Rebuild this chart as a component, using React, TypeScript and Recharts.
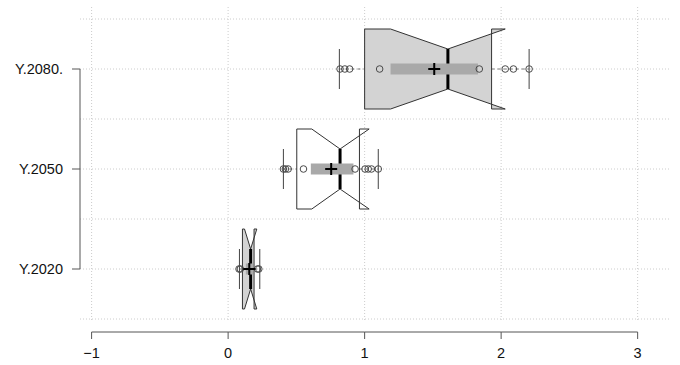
import React from 'react';
import { ComposedChart, Bar, Scatter, XAxis, YAxis, CartesianGrid } from 'recharts';

// categories, top to bottom
const categories = ['Y.2080.', 'Y.2050', 'Y.2020'];
const levels = [3, 2, 1];

// box statistics
const q1 = [1.0, 0.503, 0.105];
const q3 = [1.93, 0.962, 0.19];
const medians = [1.61, 0.82, 0.165];
const notchLo = [1.19, 0.613, 0.12];
const notchHi = [2.03, 1.033, 0.21];
const whiskerLo = [0.815, 0.405, 0.083];
const whiskerHi = [2.205, 1.1, 0.232];
const bandLo = [1.19, 0.606, 0.13];
const bandHi = [1.83, 0.918, 0.18];
const means = [1.51, 0.755, 0.155];

// single observations drawn as circles
const points2080 = [0.82, 0.855, 0.89, 1.11, 1.84, 2.03, 2.09, 2.205];
const points2050 = [0.405, 0.42, 0.44, 0.552, 0.93, 1.003, 1.026, 1.05, 1.1];
const points2020 = [0.08, 0.09, 0.215, 0.225];

const xTicks = [-1, 0, 1, 2, 3];
const gridTicks = [0.5, 1, 1.5, 2, 2.5, 3, 3.5];

const BOX_FILLS = ['#d3d3d3', '#ffffff', '#d3d3d3'];

const W = 680;
const H = 365;
const MARGIN = { top: 7, right: 10, left: 0, bottom: 0 };
const Y_W = 80;
const X_H = 45;
const XMIN = -1.085;
const XMAX = 3.237;
const YMIN = 0.49;
const YMAX = 3.62;
const PLOT_W = W - MARGIN.left - MARGIN.right - Y_W;
const PLOT_H = H - MARGIN.top - MARGIN.bottom - X_H;
const STEP_X = PLOT_W / (XMAX - XMIN);
const STEP_Y = PLOT_H / (YMAX - YMIN);

const FONT = '"Liberation Sans", Arial, Helvetica, sans-serif';
const AXIS = '#555';

const boxes = categories.map((name, i) => ({
  name,
  q1: q1[i],
  q3: q3[i],
  med: medians[i],
  nLo: notchLo[i],
  nHi: notchHi[i],
  wLo: whiskerLo[i],
  wHi: whiskerHi[i],
  bLo: bandLo[i],
  bHi: bandHi[i],
  fill: BOX_FILLS[i],
}));

const pointData = [
  ...points2080.map((v) => ({ v, y: levels[0] })),
  ...points2050.map((v) => ({ v, y: levels[1] })),
  ...points2020.map((v) => ({ v, y: levels[2] })),
];
const meanData = means.map((v, i) => ({ v, y: levels[i] }));

const NotchedBox = (props: any) => {
  const { x, y, width, height, payload } = props;
  const d = payload;
  const k = width / (d.q3 - d.q1);
  const px = (v: number) => x + (v - d.q1) * k;
  const cy = y + height / 2;
  const h = height / 2;
  const top = cy - h;
  const bot = cy + h;
  const inTop = cy - h / 2;
  const inBot = cy + h / 2;
  const pts = [
    [px(d.q1), top], [px(d.nLo), top], [px(d.med), inTop], [px(d.nHi), top], [px(d.q3), top],
    [px(d.q3), bot], [px(d.nHi), bot], [px(d.med), inBot], [px(d.nLo), bot], [px(d.q1), bot],
  ].map((p) => p.join(',')).join(' ');
  return (
    <g>
      <line x1={px(d.wLo)} x2={px(d.q1)} y1={cy} y2={cy} stroke="#777" strokeDasharray="3 3" />
      <line x1={px(d.q3)} x2={px(d.wHi)} y1={cy} y2={cy} stroke="#777" strokeDasharray="3 3" />
      <line x1={px(d.wLo)} x2={px(d.wLo)} y1={inTop} y2={inBot} stroke="#444" />
      <line x1={px(d.wHi)} x2={px(d.wHi)} y1={inTop} y2={inBot} stroke="#444" />
      <polygon points={pts} fill={d.fill} stroke="#333" strokeWidth={1} />
      <line x1={px(d.med)} x2={px(d.med)} y1={inTop} y2={inBot} stroke="#000" strokeWidth={3} />
      <rect x={px(d.bLo)} y={cy - 5.5} width={px(d.bHi) - px(d.bLo)} height={11} fill="#a9a9a9" />
    </g>
  );
};

const Ring = (props: any) => (
  <circle cx={props.cx} cy={props.cy} r={3.3} fill="none" stroke="#4a4a4a" strokeWidth={1} />
);

const Cross = (props: any) => (
  <path
    d={`M${props.cx - 6},${props.cy}H${props.cx + 6}M${props.cx},${props.cy - 6}V${props.cy + 6}`}
    stroke="#000"
    strokeWidth={2}
    fill="none"
  />
);

const XTick = (props: any) => {
  const { x, y, payload, index } = props;
  const label = payload.value < 0 ? `\u2212${Math.abs(payload.value)}` : `${payload.value}`;
  return (
    <g>
      {index < xTicks.length - 1 && (
        <line x1={x} x2={x + STEP_X} y1={y + 12} y2={y + 12} stroke={AXIS} />
      )}
      <line x1={x} x2={x} y1={y + 12} y2={y + 19} stroke={AXIS} />
      <text x={x} y={y + 38} textAnchor="middle" fontSize={14.5} fontFamily={FONT} fill="#111">
        {label}
      </text>
    </g>
  );
};

const YTick = (props: any) => {
  const { x, y, payload, index } = props;
  return (
    <g>
      {index < categories.length - 1 && (
        <line x1={x} x2={x} y1={y} y2={y + STEP_Y} stroke={AXIS} />
      )}
      <line x1={x - 8} x2={x} y1={y} y2={y} stroke={AXIS} />
      <text x={x - 17} y={y} dy="0.35em" textAnchor="end" fontSize={14.5} fontFamily={FONT} fill="#111">
        {payload.value}
      </text>
    </g>
  );
};

const NoTick = () => <g />;

export default function App() {
  return (
    <div style={{ position: 'absolute', left: 0, top: 0, width: W, height: H, background: '#fff' }}>
      <ComposedChart width={W} height={H} data={boxes} layout="vertical" margin={MARGIN}>
        <CartesianGrid stroke="#cccccc" strokeDasharray="1 2" syncWithTicks />
        <XAxis
          type="number"
          dataKey="v"
          domain={[XMIN, XMAX]}
          ticks={xTicks}
          allowDataOverflow
          height={X_H}
          axisLine={false}
          tickLine={false}
          tickSize={0}
          tickMargin={0}
          tick={<XTick />}
          interval={0}
        />
        <YAxis
          type="number"
          dataKey="y"
          domain={[YMIN, YMAX]}
          ticks={gridTicks}
          allowDataOverflow
          reversed
          width={0}
          axisLine={false}
          tickLine={false}
          tick={<NoTick />}
          interval={0}
        />
        <YAxis
          yAxisId="cat"
          type="category"
          dataKey="name"
          width={Y_W}
          padding={{ top: 12, bottom: 1 }}
          axisLine={false}
          tickLine={false}
          tickSize={0}
          tickMargin={0}
          tick={<YTick />}
          interval={0}
        />
        <Bar
          yAxisId="cat"
          dataKey={(d: any) => [d.q1, d.q3]}
          barSize={80}
          shape={<NotchedBox />}
          isAnimationActive={false}
        />
        <Scatter data={pointData} shape={<Ring />} isAnimationActive={false} />
        <Scatter data={meanData} shape={<Cross />} isAnimationActive={false} />
      </ComposedChart>
    </div>
  );
}
